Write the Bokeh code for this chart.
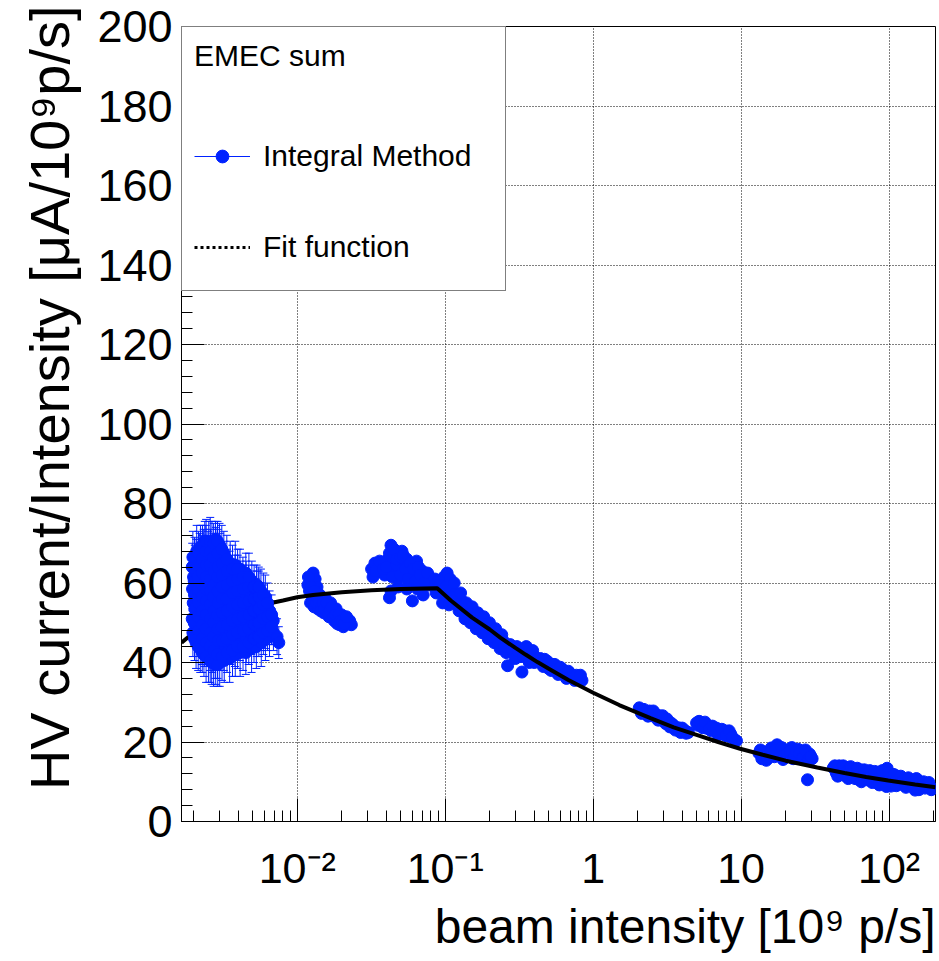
import math
from bokeh.plotting import figure
from bokeh.models import (Range1d, FixedTicker, SingleIntervalTicker, Whisker, TeeHead,
                          ColumnDataSource, Legend, LegendItem, Title)
from bokeh.embed import file_html
from bokeh.resources import INLINE

# ---------------- data ----------------
x_tick_values = [0.01, 0.1, 1, 10, 100]
x_tick_labels = ["10\u207b\u00b2", "10\u207b\u00b9", "1", "10", "10\u00b2"]
x_title = "beam intensity [10\u2079 p/s]"
y_title = "HV current/Intensity [\u03bcA/10\u2079p/s]"
legend_title = "EMEC sum"
legend_labels = ["Integral Method", "Fit function"]

# low-intensity cluster (with visible error bars)
c1_x = [0.00197, 0.00195, 0.00198, 0.00196, 0.00199, 0.00195, 0.00197,
        0.00207, 0.00210, 0.00208, 0.00206, 0.00209, 0.00211, 0.00207, 0.00209,
        0.00221, 0.00219, 0.00222, 0.00220, 0.00218, 0.00223, 0.00221, 0.00219, 0.00222,
        0.00234, 0.00236, 0.00233, 0.00237, 0.00235, 0.00234, 0.00236, 0.00235, 0.00233, 0.00237,
        0.00251, 0.00249, 0.00252, 0.00250, 0.00248, 0.00253, 0.00250, 0.00251, 0.00249, 0.00252,
        0.00264, 0.00266, 0.00265, 0.00263, 0.00267, 0.00265, 0.00264, 0.00266, 0.00263, 0.00265,
        0.00281, 0.00279, 0.00282, 0.00280, 0.00278, 0.00283, 0.00280, 0.00281, 0.00279, 0.00282, 0.00280,
        0.00299, 0.00302, 0.00300, 0.00298, 0.00303, 0.00301, 0.00299, 0.00302, 0.00300, 0.00298,
        0.00321, 0.00319, 0.00322, 0.00320, 0.00318, 0.00323, 0.00320, 0.00321, 0.00319,
        0.00349, 0.00352, 0.00350, 0.00348, 0.00353, 0.00351, 0.00349, 0.00352,
        0.00381, 0.00379, 0.00382, 0.00380, 0.00378, 0.00383, 0.00380, 0.00381,
        0.00411, 0.00409, 0.00412, 0.00410, 0.00408, 0.00413, 0.00410,
        0.00449, 0.00452, 0.00450, 0.00448, 0.00453, 0.00451, 0.00449,
        0.00491, 0.00489, 0.00492, 0.00490, 0.00488, 0.00493,
        0.00529, 0.00532, 0.00530, 0.00528, 0.00533, 0.00531,
        0.00571, 0.00569, 0.00572, 0.00570, 0.00568,
        0.00609, 0.00612, 0.00610, 0.00608,
        0.00649, 0.00652, 0.00650, 0.00690, 0.00688, 0.00730, 0.00750]
c1_y = [47.5, 51.0, 55.0, 58.5, 61.5, 64.0, 66.5,
        45.0, 49.0, 52.5, 56.0, 59.5, 62.5, 65.5, 68.0,
        43.5, 47.0, 50.5, 54.0, 57.5, 60.5, 63.5, 66.5, 69.0,
        42.0, 45.5, 49.0, 52.5, 56.0, 59.0, 62.0, 65.0, 68.0, 70.5,
        41.0, 44.5, 48.0, 51.0, 54.5, 57.5, 60.5, 63.5, 67.0, 70.0,
        40.0, 43.5, 47.0, 50.5, 53.5, 57.0, 60.0, 63.0, 66.0, 69.5,
        39.5, 42.5, 46.0, 49.5, 52.5, 56.0, 59.0, 62.0, 65.0, 68.5, 71.0,
        40.0, 43.5, 47.0, 50.5, 54.0, 57.5, 60.5, 63.5, 66.5, 69.5,
        40.5, 44.0, 47.5, 51.0, 54.0, 57.5, 61.0, 64.0, 67.5,
        41.0, 44.5, 48.0, 51.5, 55.0, 58.0, 61.5, 65.0,
        42.0, 45.5, 49.0, 52.5, 56.0, 59.0, 62.0, 64.5,
        42.5, 46.0, 49.5, 53.0, 56.5, 60.0, 63.5,
        42.5, 46.0, 49.5, 53.0, 56.5, 59.5, 62.5,
        43.5, 47.0, 50.5, 54.0, 57.0, 60.5,
        44.0, 47.5, 51.0, 54.5, 57.5, 59.5,
        45.0, 48.5, 52.0, 55.0, 58.0,
        46.0, 49.5, 53.0, 56.5,
        46.5, 50.0, 53.0, 47.5, 50.5, 46.5, 45.0]
c1_err = [6.0, 5.0, 6.5, 5.5, 5.0, 6.0, 6.5,
          6.5, 5.5, 5.0, 6.0, 6.5, 5.0, 5.5, 6.5,
          6.0, 5.5, 6.5, 5.0, 6.0, 5.5, 5.0, 6.0, 5.5,
          5.5, 6.5, 5.0, 6.0, 5.5, 6.5, 5.0, 6.0, 5.5, 5.0,
          6.0, 5.0, 6.5, 5.5, 6.0, 5.0, 6.5, 5.5, 6.0, 5.5,
          5.5, 6.0, 5.0, 6.5, 5.5, 6.0, 5.0, 6.5, 5.5, 6.0,
          5.0, 6.5, 5.5, 6.0, 5.0, 6.5, 5.5, 6.0, 5.0, 5.5, 4.5,
          6.0, 5.5, 6.5, 5.0, 6.0, 5.5, 6.5, 5.0, 6.0, 5.5,
          5.5, 6.0, 5.0, 6.5, 5.5, 6.0, 5.0, 6.5, 5.5,
          6.0, 5.0, 6.5, 5.5, 6.0, 5.0, 6.5, 5.5,
          5.5, 6.5, 5.0, 6.0, 5.5, 6.5, 5.0, 6.0,
          6.0, 5.5, 6.5, 5.0, 6.0, 5.5, 5.0,
          5.5, 6.0, 5.0, 6.5, 5.5, 6.0, 5.0,
          6.0, 5.0, 6.5, 5.5, 6.0, 5.0,
          5.5, 6.0, 5.0, 6.5, 5.5, 5.0,
          6.0, 5.5, 6.5, 5.0, 5.5,
          5.5, 6.0, 5.0, 5.5,
          5.0, 5.5, 5.0, 4.5, 5.0, 4.5, 4.0]

# more points of the same low-intensity cluster, between the columns above
c1b_x = [0.00202, 0.00201, 0.00203, 0.00202, 0.00201, 0.00203, 0.00202,
         0.00214, 0.00215, 0.00213, 0.00214, 0.00215, 0.00213, 0.00214, 0.00215,
         0.00228, 0.00227, 0.00229, 0.00228, 0.00227, 0.00229, 0.00228, 0.00227, 0.00229,
         0.00242, 0.00243, 0.00241, 0.00242, 0.00243, 0.00241, 0.00242, 0.00243, 0.00241, 0.00242,
         0.00258, 0.00257, 0.00259, 0.00258, 0.00257, 0.00259, 0.00258, 0.00257, 0.00259, 0.00258,
         0.00272, 0.00273, 0.00271, 0.00272, 0.00273, 0.00271, 0.00272, 0.00273, 0.00271, 0.00272,
         0.00290, 0.00289, 0.00291, 0.00290, 0.00289, 0.00291, 0.00290, 0.00289, 0.00291, 0.00290, 0.00289,
         0.00310, 0.00311, 0.00309, 0.00310, 0.00311, 0.00309, 0.00310, 0.00311, 0.00309,
         0.00335, 0.00334, 0.00336, 0.00335, 0.00334, 0.00336, 0.00335, 0.00334,
         0.00365, 0.00366, 0.00364, 0.00365, 0.00366, 0.00364, 0.00365,
         0.00395, 0.00394, 0.00396, 0.00395, 0.00394, 0.00396, 0.00395,
         0.00430, 0.00431, 0.00429, 0.00430, 0.00431, 0.00429,
         0.00470, 0.00469, 0.00471, 0.00470, 0.00469, 0.00471,
         0.00510, 0.00511, 0.00509, 0.00510, 0.00511,
         0.00550, 0.00549, 0.00551, 0.00550, 0.00549,
         0.00590, 0.00591, 0.00589, 0.00590,
         0.00630, 0.00631, 0.00629,
         0.00670, 0.00671]
c1b_y = [46.0, 50.0, 53.5, 57.0, 60.5, 63.5, 66.5,
         44.0, 48.0, 51.5, 55.0, 58.5, 61.5, 64.5, 67.5,
         42.5, 46.0, 49.5, 53.0, 56.5, 59.5, 62.5, 66.0, 69.5,
         41.5, 45.0, 48.5, 52.0, 55.5, 58.5, 61.5, 64.5, 68.0, 70.5,
         40.5, 44.0, 47.5, 51.0, 54.5, 58.0, 61.0, 64.5, 68.0, 70.5,
         40.0, 43.0, 46.5, 50.0, 53.0, 56.5, 59.5, 63.0, 66.5, 70.0,
         39.5, 42.0, 45.5, 48.5, 52.0, 55.0, 58.0, 61.5, 64.0, 67.5, 70.5,
         41.5, 45.5, 49.0, 52.5, 56.0, 59.0, 62.0, 65.0, 68.5,
         42.5, 46.0, 49.5, 53.0, 56.0, 59.5, 63.0, 66.0,
         43.0, 47.0, 50.5, 54.0, 57.5, 60.5, 63.5,
         44.0, 47.5, 51.0, 54.5, 58.0, 61.0, 63.5,
         44.0, 48.0, 51.5, 55.0, 58.5, 61.5,
         45.0, 48.5, 52.0, 55.5, 59.0, 61.5,
         46.0, 49.5, 53.0, 56.0, 59.0,
         46.5, 50.0, 53.5, 56.5, 59.0,
         47.5, 51.0, 54.5, 57.0,
         48.0, 51.5, 55.0,
         49.0, 52.0]
c1b_err = [5.5, 6.0, 5.0, 6.5, 5.5, 6.0, 5.0,
           6.0, 5.0, 6.5, 5.5, 6.0, 5.0, 6.5, 5.5,
           5.0, 6.5, 5.5, 6.0, 5.0, 6.5, 5.5, 6.0, 5.0,
           6.5, 5.5, 6.0, 5.0, 6.5, 5.5, 6.0, 5.0, 6.5, 5.5,
           5.5, 6.0, 5.0, 6.5, 5.5, 6.0, 5.0, 6.5, 5.5, 6.0,
           6.0, 5.0, 6.5, 5.5, 6.0, 5.0, 6.5, 5.5, 6.0, 5.0,
           5.5, 6.0, 5.0, 6.5, 5.5, 6.0, 5.0, 6.5, 5.5, 6.0, 5.0,
           6.0, 5.5, 6.5, 5.0, 6.0, 5.5, 6.5, 5.0, 6.0,
           5.0, 6.5, 5.5, 6.0, 5.0, 6.5, 5.5, 6.0,
           6.5, 5.5, 6.0, 5.0, 6.5, 5.5, 6.0,
           5.5, 6.0, 5.0, 6.5, 5.5, 6.0, 5.0,
           6.0, 5.0, 6.5, 5.5, 6.0, 5.0,
           5.5, 6.0, 5.0, 6.5, 5.5, 6.0,
           6.0, 5.5, 6.5, 5.0, 5.5,
           5.0, 6.0, 5.5, 6.5, 5.0,
           5.5, 6.0, 5.0, 5.5,
           5.0, 5.5, 5.0,
           4.5, 5.0]

c2_x = [0.0118, 0.0121, 0.0125, 0.0128, 0.0132, 0.0136, 0.0123, 0.0126, 0.0130, 0.0134,
        0.0138, 0.0142, 0.0146, 0.0151, 0.0155, 0.0160, 0.0164, 0.0168, 0.0173, 0.0178,
        0.0183, 0.0188, 0.0193, 0.0199, 0.0205, 0.0211, 0.0218, 0.0226, 0.0232,
        0.0119, 0.0124, 0.0127, 0.0131, 0.0135, 0.0140, 0.0144, 0.0149, 0.0153, 0.0158,
        0.0162, 0.0166, 0.0171, 0.0176, 0.0181, 0.0186, 0.0191, 0.0196, 0.0202, 0.0208, 0.0215]
c2_y = [59.5, 58.0, 60.5, 62.5, 61.0, 59.0, 55.0, 57.0, 54.0, 56.5,
        53.5, 57.0, 55.0, 52.5, 56.0, 54.0, 51.5, 55.0, 52.5, 50.5,
        53.5, 51.0, 49.5, 52.0, 49.0, 51.0, 50.0, 50.5, 49.5,
        61.5, 59.0, 55.5, 58.0, 55.0, 55.5, 53.0, 55.0, 53.5, 55.0,
        52.5, 53.0, 54.0, 51.5, 52.0, 49.8, 52.0, 50.5, 50.5, 49.8, 51.5]

c3_x = [0.0318, 0.0335, 0.0350, 0.0370, 0.0390, 0.0410, 0.0430, 0.0445, 0.0460, 0.0480,
        0.0490, 0.0510, 0.0530, 0.0550, 0.0570, 0.0590, 0.0420, 0.0600, 0.0710, 0.0620,
        0.0640, 0.0670, 0.0700, 0.0740, 0.0780, 0.0440, 0.0520, 0.0560,
        0.0325, 0.0340, 0.0360, 0.0380, 0.0400, 0.0420, 0.0440, 0.0450, 0.0470, 0.0470,
        0.0500, 0.0500, 0.0520, 0.0540, 0.0560, 0.0580, 0.0610, 0.0630, 0.0660, 0.0680,
        0.0720, 0.0760, 0.0430, 0.0480, 0.0550, 0.0650]
c3_y = [63.5, 65.0, 62.8, 64.5, 62.0, 66.0, 69.5, 63.0, 67.5, 61.0,
        65.0, 68.0, 62.5, 66.0, 60.5, 64.0, 56.3, 55.5, 57.0, 62.0,
        65.5, 60.0, 63.0, 61.5, 59.5, 66.5, 64.5, 63.0,
        61.5, 63.0, 65.5, 63.5, 64.0, 67.5, 61.5, 68.5, 64.5, 66.0,
        62.0, 66.5, 67.0, 63.5, 61.0, 65.0, 63.5, 60.5, 64.0, 62.0,
        60.0, 62.5, 58.0, 59.0, 58.5, 58.5]

c4_x = [0.085, 0.087, 0.090, 0.094, 0.096, 0.098, 0.100, 0.103, 0.106, 0.108, 0.112, 0.118,
        0.124, 0.130, 0.136, 0.142, 0.148, 0.155, 0.162, 0.170, 0.178, 0.186, 0.195,
        0.204, 0.214, 0.224, 0.235, 0.246, 0.258, 0.264, 0.275, 0.290, 0.305, 0.320,
        0.330, 0.345, 0.360, 0.380, 0.400, 0.44, 0.46, 0.49, 0.52, 0.55, 0.58, 0.62,
        0.66, 0.70, 0.75, 0.80, 0.84,
        0.092, 0.101, 0.110, 0.115, 0.121, 0.127, 0.133, 0.139, 0.145, 0.152,
        0.158, 0.166, 0.174, 0.182, 0.190, 0.199, 0.209, 0.219, 0.230, 0.241,
        0.252, 0.283, 0.298, 0.313, 0.338, 0.353, 0.370, 0.39, 0.42, 0.45,
        0.47, 0.50, 0.535, 0.565, 0.60, 0.64, 0.68, 0.72, 0.77, 0.82]
c4_y = [61.0, 57.5, 60.5, 58.5, 55.0, 61.5, 56.0, 62.5, 54.5, 61.0, 58.0, 56.0,
        53.0, 55.5, 51.0, 53.5, 50.0, 52.5, 48.5, 51.0, 47.5, 49.5, 46.0,
        48.5, 45.0, 47.0, 43.5, 45.5, 42.5, 39.2, 44.5, 42.5, 44.0, 41.5,
        37.6, 43.0, 41.0, 42.3, 40.0, 41.0, 39.0, 40.3, 38.0, 39.5, 37.0, 38.3,
        36.0, 37.2, 35.5, 36.2, 35.5,
        59.5, 59.0, 56.5, 60.0, 54.5, 57.5, 52.5, 55.0, 51.5, 54.0,
        50.0, 52.5, 49.0, 51.5, 47.8, 50.0, 46.5, 48.5, 45.0, 47.0,
        44.0, 43.5, 41.0, 42.8, 41.5, 44.0, 40.0, 43.0, 41.0, 39.8,
        40.8, 38.5, 39.5, 38.3, 38.8, 37.0, 37.8, 36.3, 36.8, 36.8]

c5_x = [2.05, 2.12, 2.2, 2.3, 2.4, 2.5, 2.6, 2.7, 2.8, 2.9, 3.0, 3.1, 3.2, 3.3, 3.45,
        3.6, 3.75, 3.9, 4.05, 4.25, 4.4,
        2.15, 2.35, 2.55, 2.75, 2.95, 3.15, 3.35, 3.55, 3.8, 4.0, 4.2]
c5_y = [28.6, 27.2, 28.2, 27.0, 27.8, 26.6, 27.2, 26.0, 26.6, 25.5, 26.0, 24.6, 25.3,
        23.8, 24.4, 23.0, 23.6, 22.4, 22.8, 22.2, 22.4,
        28.0, 26.5, 27.8, 25.5, 26.6, 25.8, 24.8, 23.8, 22.8, 23.5, 22.8]

c6_x = [5.0, 5.2, 5.4, 5.6, 5.8, 6.0, 6.3, 6.6, 6.9, 7.2, 7.5, 7.8, 8.1, 8.5, 8.9, 9.3,
        5.1, 5.3, 5.5, 5.7, 6.1, 6.4, 6.8, 7.0, 7.4, 7.9, 8.3, 8.7]
c6_y = [24.8, 25.2, 24.0, 24.6, 23.5, 24.0, 22.8, 23.4, 22.3, 23.0, 22.0, 22.8, 21.5,
        22.0, 20.8, 20.3,
        24.2, 25.0, 23.6, 25.0, 23.2, 24.0, 23.5, 21.8, 23.2, 21.6, 22.8, 21.2]

c7_x = [13.2, 13.8, 14.5, 15.2, 16.0, 16.8, 17.5, 18.3, 19.2, 20.0, 21.0, 22.0, 23.0,
        24.2, 25.3, 26.5, 27.8, 29.0, 30.2, 28.1,
        13.5, 14.8, 15.6, 17.0, 18.8, 19.6, 20.5, 21.5, 22.5, 23.6, 24.8, 26.0, 27.2,
        28.5, 29.6]
c7_y = [17.2, 15.8, 17.5, 16.0, 18.5, 16.3, 19.3, 17.2, 15.6, 18.0, 16.5, 18.6, 16.8,
        18.2, 16.2, 17.6, 16.6, 17.0, 15.8, 10.5,
        18.0, 15.4, 17.2, 17.8, 18.6, 16.6, 17.2, 17.6, 15.8, 17.5, 17.0, 16.0, 18.0,
        15.6, 16.4]

c8_x = [42, 44, 46, 48, 50, 52, 54, 56, 58, 60, 62, 64, 67, 70, 73, 76, 79, 82, 85, 88,
        91, 94, 97, 100, 103, 106, 110, 114, 118, 122, 127, 132, 138, 144, 150, 156,
        162, 168, 175, 182, 190, 196,
        43, 45, 47, 49, 51, 53, 55, 57, 59, 61, 63, 65, 68, 71, 74, 77, 80, 83, 86, 90,
        93, 96, 99, 102, 105, 108, 112, 116, 120, 125, 130, 135, 141, 147, 153, 159,
        165, 171, 178, 186, 193]
c8_y = [13.5, 12.2, 14.0, 12.8, 11.6, 13.6, 12.4, 11.2, 13.2, 12.0, 10.6, 13.0, 11.6,
        12.6, 10.4, 12.2, 11.0, 9.8, 12.4, 11.2, 9.6, 12.0, 13.4, 10.4, 8.9, 11.8, 10.2,
        11.4, 9.4, 11.0, 9.8, 10.6, 9.0, 10.2, 7.9, 9.6, 8.6, 9.8, 8.4, 9.2, 8.8, 8.2,
        14.0, 11.4, 13.0, 14.0, 12.4, 10.8, 13.8, 12.6, 10.8, 13.4, 11.8, 10.0, 13.0,
        11.0, 12.8, 9.8, 12.6, 10.6, 9.2, 12.8, 10.6, 8.8, 12.2, 11.0, 9.6, 11.8, 9.0,
        10.6, 11.4, 10.4, 8.6, 11.0, 9.6, 9.0, 10.8, 8.0, 9.0, 10.0, 8.8, 9.8, 8.0]

fit_x = [0.00165, 0.00206, 0.003, 0.004, 0.005, 0.0063, 0.008, 0.01, 0.0128, 0.02,
         0.0317, 0.05, 0.0883, 0.109, 0.152, 0.2, 0.237, 0.3, 0.349, 0.42, 0.515, 0.68,
         1.0, 1.5, 2.44, 3.5, 5.0, 7.0, 9.85, 14.0, 20.0, 32.7, 50.0, 70.0, 98.7, 150.0, 206.0]
fit_y = [45.0, 48.0, 51.0, 52.8, 53.9, 54.8, 55.6, 56.4, 57.0, 57.7,
         58.2, 58.5, 58.7, 55.6, 51.3, 48.3, 46.2, 43.6, 42.0, 40.1, 38.2, 35.6,
         32.4, 29.3, 26.0, 23.7, 21.8, 20.0, 18.3, 16.8, 15.3, 13.6, 12.2, 11.2, 10.3, 9.3, 8.6]

# ---------------- styling ----------------
FONT = "Liberation Sans"
BLUE = "#0022ff"

p = figure(width=939, height=961, x_axis_type="log",
           x_range=Range1d(0.00165, 206), y_range=Range1d(0, 200),
           output_backend="svg", toolbar_location=None,
           min_border_left=181, min_border_right=4, min_border_top=26,
           min_border_bottom=140)
p.background_fill_color = "white"
p.border_fill_color = "white"
p.outline_line_color = "black"
p.outline_line_width = 1

minor = [m * 10.0 ** k for k in range(-3, 3) for m in range(2, 10)]
xt = FixedTicker(ticks=x_tick_values, minor_ticks=minor)
p.xaxis.ticker = xt
p.xgrid.ticker = xt
yt = SingleIntervalTicker(interval=20, num_minor_ticks=5)
p.yaxis.ticker = yt
p.ygrid.ticker = yt
p.xaxis.major_label_overrides = dict(zip(x_tick_values, x_tick_labels))

p.grid.grid_line_color = "black"
p.grid.grid_line_dash = "1 2"
p.grid.grid_line_width = 1
p.grid.grid_line_alpha = 1.0

for ax in (p.xaxis[0], p.yaxis[0]):
    ax.axis_line_color = "black"
    ax.major_tick_line_color = "black"
    ax.minor_tick_line_color = "black"
    ax.major_tick_in = 23
    ax.major_tick_out = 0
    ax.minor_tick_in = 11
    ax.minor_tick_out = 0
    ax.major_label_text_font = FONT
    ax.major_label_text_color = "black"
p.xaxis.major_label_text_font_size = "43px"
p.yaxis.major_label_text_font_size = "45px"
p.xaxis.major_label_standoff = 22
p.yaxis.major_label_standoff = 9

main_src = ColumnDataSource(dict(x=c2_x + c3_x + c4_x + c5_x + c6_x + c7_x + c8_x,
                                 y=c2_y + c3_y + c4_y + c5_y + c6_y + c7_y + c8_y))
p.scatter("x", "y", source=main_src, size=12, fill_color=BLUE, line_color=BLUE)

p.line(fit_x, fit_y, line_color="black", line_width=4)

low_x = c1_x + c1b_x
low_y = c1_y + c1b_y
low_e = c1_err + c1b_err
low_src = ColumnDataSource(dict(x=low_x, y=low_y,
                                lo=[a - b for a, b in zip(low_y, low_e)],
                                hi=[a + b for a, b in zip(low_y, low_e)]))
p.scatter("x", "y", source=low_src, size=12, fill_color=BLUE, line_color=BLUE)
wh = Whisker(source=low_src, base="x", upper="hi", lower="lo", dimension="height",
             line_color=BLUE, line_width=1,
             upper_head=TeeHead(size=8, line_color=BLUE, line_width=1),
             lower_head=TeeHead(size=8, line_color=BLUE, line_width=1))
p.add_layout(wh)

# legend swatches: renderers whose single dummy point lies outside the visible ranges
leg_line = p.line([1e-9, 2e-9], [-50, -50], line_color=BLUE, line_width=1)
leg_dot = p.scatter([1e-9], [-50], size=12, fill_color=BLUE, line_color=BLUE)
leg_fit = p.line([1e-9, 2e-9], [-50, -50], line_color="black", line_width=3, line_dash="3 3")
legend = Legend(items=[LegendItem(label=legend_labels[0], renderers=[leg_line, leg_dot]),
                       LegendItem(label=legend_labels[1], renderers=[leg_fit])],
                location="top_left", margin=0, padding=12,
                border_line_color="black", border_line_width=1,
                background_fill_color="white", background_fill_alpha=1.0,
                title=legend_title, title_text_font=FONT, title_text_font_size="30px",
                title_text_font_style="normal", title_text_color="black",
                title_standoff=52,
                label_text_font=FONT, label_text_font_size="30px", label_text_color="black",
                glyph_width=56, glyph_height=32, label_height=62, spacing=29,
                label_standoff=13, label_width=230)
p.add_layout(legend)

p.add_layout(Title(text=x_title, align="right", text_font=FONT, text_font_size="48px",
                   text_font_style="normal", text_color="black", standoff=7), "below")
p.add_layout(Title(text=y_title, align="right", offset=-21, text_font=FONT,
                   text_font_size="56px", text_font_style="normal", text_color="black",
                   standoff=27), "left")

open("out.html", "w").write(file_html(p, INLINE))
